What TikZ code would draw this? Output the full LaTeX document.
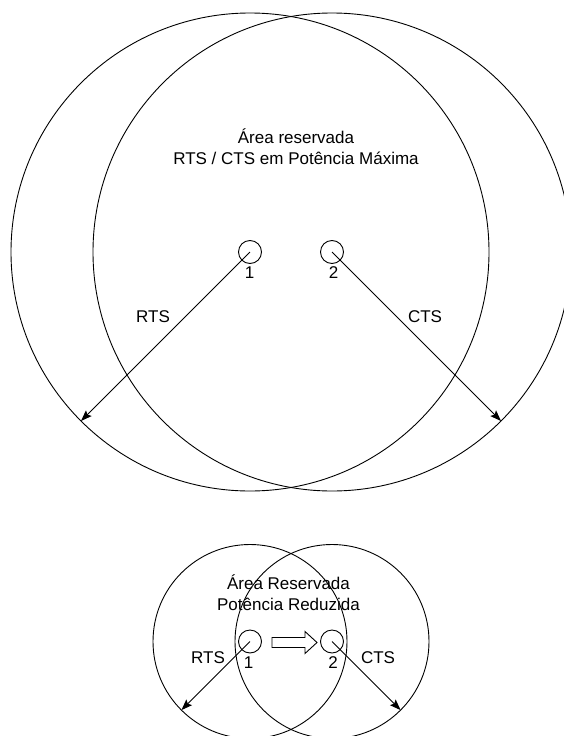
\documentclass[tikz,border=0pt]{standalone}
\usepackage{fontspec}
\setmainfont{Liberation Sans}
\usetikzlibrary{arrows.meta}
\begin{document}
\begin{tikzpicture}[x=1pt,y=-1pt,
  lw/.style={line width=0.9pt},
  bigcirc/.style={draw, circle, lw, inner sep=0pt, outer sep=0pt, minimum size=#1},
  station/.style={draw, circle, lw, inner sep=0pt, outer sep=0pt, minimum size=23pt},
  lbl/.style={inner sep=0pt, font=\fontsize{17pt}{21pt}\selectfont},
  arr/.style={lw, -{Stealth[length=11pt, width=8pt, inset=2pt]}},
  hollow/.style={draw, lw, fill=white, line join=miter}
]
\useasboundingbox (0,0) rectangle (564,736);
\clip (0,0) rectangle (564,736);
% top: maximum power
\node[bigcirc=478pt] (L) at (250,252) {};
\node[bigcirc=478pt] (R) at (332,252) {};
\node[station] (c1) at (250,252) {};
\node[station] (c2) at (332,252) {};
\node[lbl] (n1) at (249.5,273) {1};
\node[lbl] (n2) at (333.5,273) {2};
\node[lbl, align=center] (t1) at (296,146.5) {Área reservada\\RTS / CTS em Potência Máxima};
\draw[arr] (c1.center) -- (L.225);
\draw[arr] (c2.center) -- (R.-45);
\node[lbl] (rts1) at (153,317) {RTS};
\node[lbl] (cts1) at (425,317) {CTS};
% bottom: reduced power
\node[bigcirc=194pt] (l) at (250,641.5) {};
\node[bigcirc=194pt] (r) at (332,641.5) {};
\node[station] (d1) at (250,641.5) {};
\node[station] (d2) at (332,641.5) {};
\node[lbl] (m1) at (248.5,663) {1};
\node[lbl] (m2) at (333,662.5) {2};
\node[lbl, align=center] (t2) at (288.5,593) {Área Reservada\\Potência Reduzida};
\draw[arr] (d1.center) -- (l.225);
\draw[arr] (d2.center) -- (r.-45);
\node[lbl] (rts2) at (208,658) {RTS};
\node[lbl] (cts2) at (378,658) {CTS};
\draw[hollow] (272,637.5) -- (305,637.5) -- (305,631.5) -- (317,642.5)
  -- (305,653.5) -- (305,647.5) -- (272,647.5) -- cycle;
\end{tikzpicture}
\end{document}
